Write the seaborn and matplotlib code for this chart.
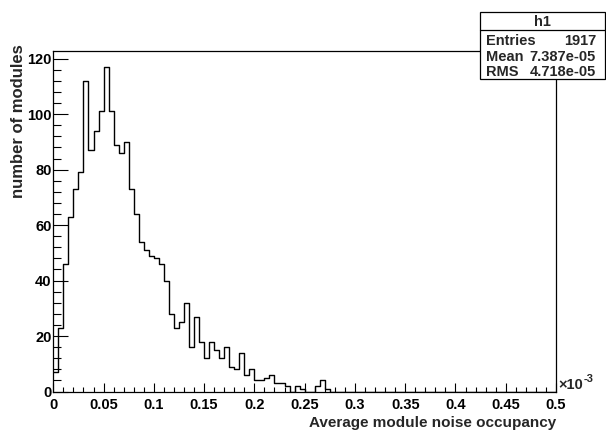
import matplotlib
matplotlib.use("Agg")
import matplotlib.pyplot as plt
from matplotlib.ticker import MultipleLocator, FixedLocator, FixedFormatter
from matplotlib.patches import Rectangle
import pandas as pd
import seaborn as sns

# ---- data (x in units of 1e-3) ----
bin_edges = [round(i * 0.005, 4) for i in range(101)]
counts = [7, 23, 46, 63, 73, 79, 112, 87, 94, 101,
          117, 101, 89, 86, 90, 73, 64, 54, 51, 49,
          48, 46, 40, 28, 23, 25, 32, 16, 27, 18,
          12, 18, 15, 12, 16, 9, 8, 14, 6, 8,
          4, 4, 5, 6, 3, 3, 2, 0, 2, 1,
          0, 0, 2, 4, 1, 0] + [0] * 44
x_ticks = [0, 0.05, 0.1, 0.15, 0.2, 0.25, 0.3, 0.35, 0.4, 0.45, 0.5]
x_tick_labels = ["0", "0.05", "0.1", "0.15", "0.2", "0.25", "0.3", "0.35", "0.4", "0.45", "0.5"]
y_ticks = [0, 20, 40, 60, 80, 100, 120]
y_tick_labels = ["0", "20", "40", "60", "80", "100", "120"]
stats_title = "h1"
stats_rows = [("Entries", "1917"), ("Mean", "7.387e-05"), ("RMS", "4.718e-05")]
x_title = "Average module noise occupancy"
y_title = "number of modules"

centers = [(a + b) / 2 for a, b in zip(bin_edges[:-1], bin_edges[1:])]
df = pd.DataFrame({"occ": centers, "n": counts})

sns.set_style("white")
plt.rcParams['font.family'] = ['Liberation Sans', 'DejaVu Sans']
plt.rcParams['font.weight'] = 'bold'

fig = plt.figure(figsize=(6.06, 4.30), dpi=100)
W, H = 606, 430
ax = fig.add_axes([53.3 / W, (H - 391.5) / H, (556 - 53.3) / W, (391.5 - 50.8) / H])

sns.histplot(data=df, x="occ", weights="n", bins=bin_edges, element="step", fill=False,
             color="black", linewidth=1.0, ax=ax)

ax.set_xlim(0, 0.5)
ax.set_ylim(0, 122.85)
ax.set_xlabel("")
ax.set_ylabel("")

ax.xaxis.set_major_locator(FixedLocator(x_ticks))
ax.xaxis.set_major_formatter(FixedFormatter(x_tick_labels))
ax.xaxis.set_minor_locator(MultipleLocator(0.01))
ax.yaxis.set_major_locator(FixedLocator(y_ticks))
ax.yaxis.set_major_formatter(FixedFormatter(y_tick_labels))
ax.yaxis.set_minor_locator(MultipleLocator(4))

ax.tick_params(which='both', bottom=True, left=True, top=False, right=False)
ax.tick_params(axis='x', which='major', direction='in', length=6.5, width=0.8,
               labelsize=10.5, pad=4.5, colors='black')
ax.tick_params(axis='x', which='minor', direction='in', length=3.3, width=0.8, color='black')
ax.tick_params(axis='y', which='major', direction='in', length=11, width=0.8,
               labelsize=10.5, pad=1.2, colors='black')
ax.tick_params(axis='y', which='minor', direction='in', length=5.5, width=0.8, color='black')
for lab in ax.get_xticklabels() + ax.get_yticklabels():
    lab.set_fontweight('bold')

for s in ax.spines.values():
    s.set_visible(True)
    s.set_color('black')
    s.set_linewidth(0.9)

# axis titles
fig.text(556 / W, (H - 423) / H, x_title, ha='right', va='center', fontsize=11, fontweight='bold')
fig.text(19 / W, (H - 44) / H, y_title, ha='center', va='top', rotation=90,
         fontsize=12, fontweight='bold')
fig.text(558 / W, (H - 385) / H, "\u00d710", ha='left', va='center', fontsize=10.5,
         fontweight='bold')
fig.text(583.5 / W, (H - 379) / H, "-3", ha='left', va='center', fontsize=8,
         fontweight='bold')

# stats box
bx0, bx1, by0, by1 = 480, 605, 11.7, 79
fig.patches.append(Rectangle((bx0 / W, (H - by1) / H), (bx1 - bx0) / W, (by1 - by0) / H,
                             transform=fig.transFigure, facecolor='white',
                             edgecolor='black', linewidth=0.9, zorder=10))
fig.lines.append(plt.Line2D([bx0 / W, bx1 / W], [(H - 30) / H, (H - 30) / H],
                            transform=fig.transFigure, color='black', linewidth=0.9, zorder=11))
fig.text((bx0 + bx1) / 2 / W, (H - 22.5) / H, stats_title, ha='center', va='center',
         fontsize=10.5, fontweight='bold', zorder=12)
row_y = [41, 56.7, 72.3]
for (k, v), ry in zip(stats_rows, row_y):
    yy = (H - ry) / H
    fig.text(486 / W, yy, k, ha='left', va='center', fontsize=10.5, fontweight='bold', zorder=12)
    fig.text(596 / W, yy, v, ha='right', va='center', fontsize=10.5, fontweight='bold', zorder=12)

fig.savefig("out.png", dpi=100, facecolor='white')
